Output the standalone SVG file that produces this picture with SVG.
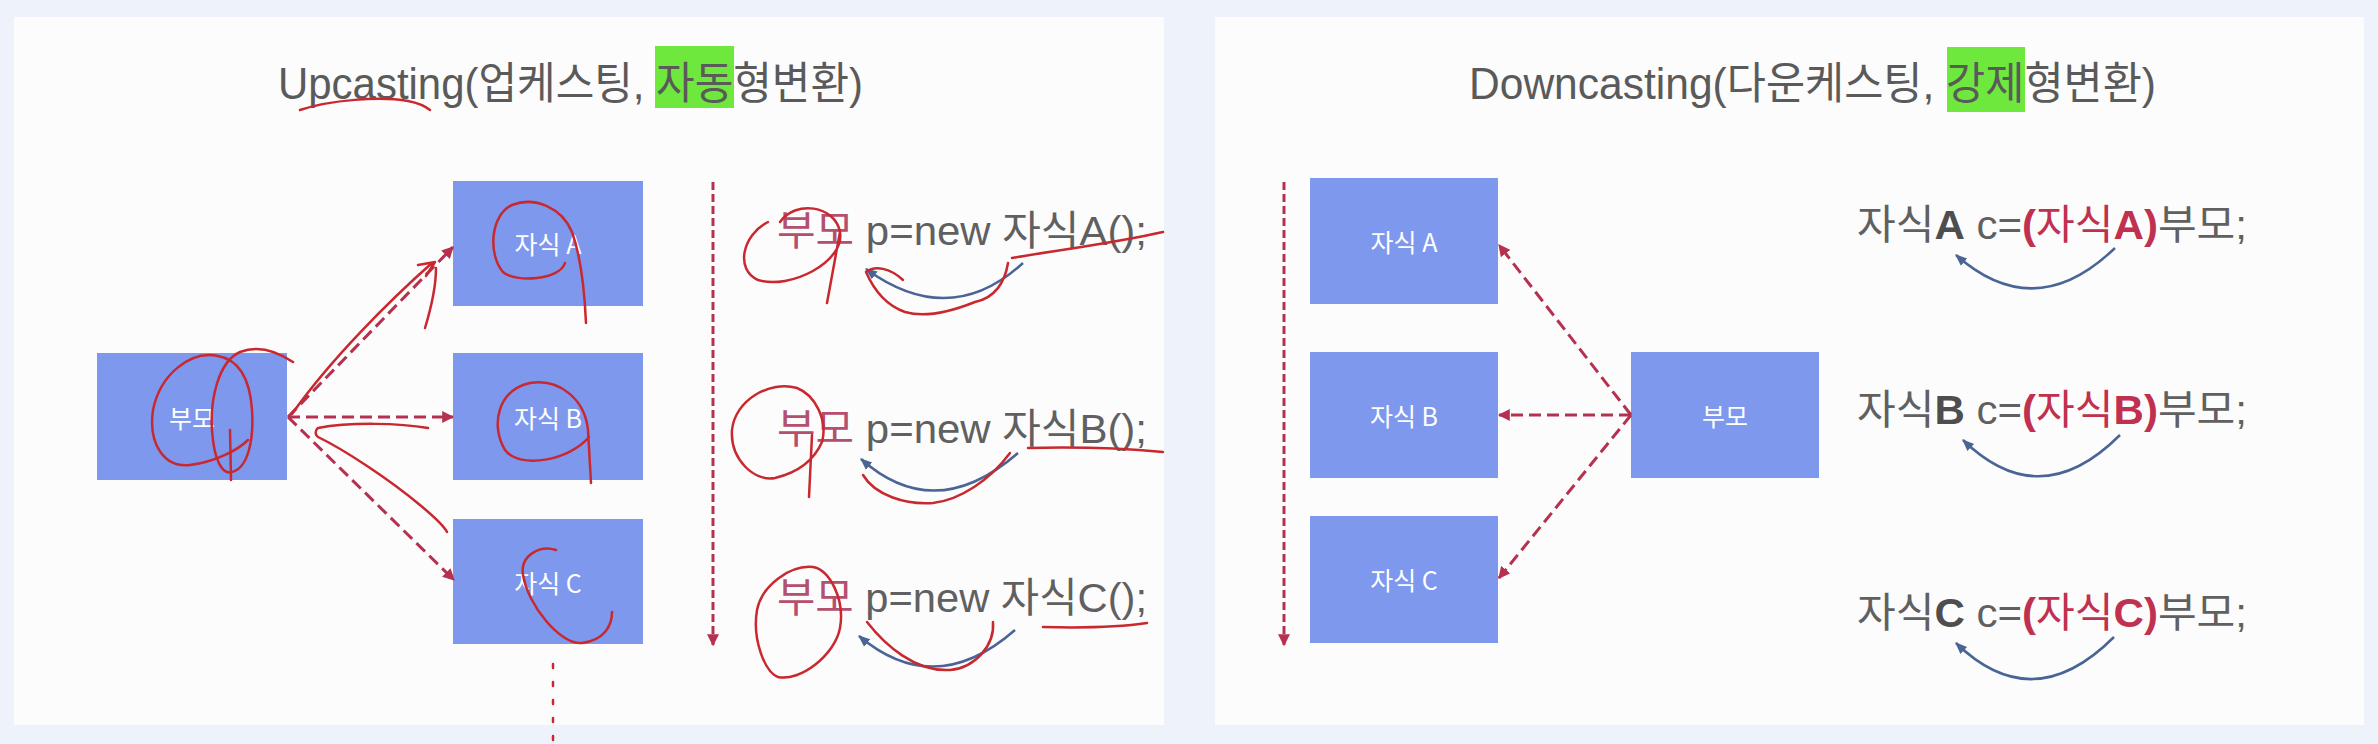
<svg xmlns="http://www.w3.org/2000/svg" width="2378" height="744" viewBox="0 0 2378 744">
<style>
.bg{fill:#eef3fb}
.panel{fill:#fcfcfd}
.node{fill:#7e98ee}
.lbl{font-family:"Noto Sans CJK KR","Liberation Sans",sans-serif;font-size:25px;fill:#ffffff;text-anchor:middle;dominant-baseline:central}
.title{font-family:"Liberation Sans","Noto Sans CJK KR",sans-serif;font-size:44px;fill:#5a5a5a}
.hl{fill:#6ee83c}
.code{font-family:"Liberation Sans","Noto Sans CJK KR",sans-serif;font-size:41px;fill:#606060}
.pm{fill:#b4506e}
.rd{fill:#c0304f}
.bd{font-weight:bold}
.dk{fill:#4e4e4e}
.dash{fill:none;stroke:#b5314f;stroke-width:3;stroke-dasharray:12 6}
.vdash{fill:none;stroke:#b5314f;stroke-width:3;stroke-dasharray:8 4}
.blue{fill:none;stroke:#4a6496;stroke-width:2.5}
.ink{fill:none;stroke:#c8282e;stroke-width:2.5;stroke-linecap:round;stroke-linejoin:round}
</style>
<defs>
<marker id="ah" viewBox="0 0 10 10" refX="9" refY="5" markerWidth="12" markerHeight="12" markerUnits="userSpaceOnUse" orient="auto">
<path d="M0,0 L10,5 L0,10 z" fill="#b5314f"/>
</marker>
<marker id="bh" viewBox="0 0 10 10" refX="9" refY="5" markerWidth="12" markerHeight="12" markerUnits="userSpaceOnUse" orient="auto">
<path d="M0,1 L10,5 L0,9 z" fill="#4a6496"/>
</marker>
</defs>
<rect class="bg" x="0" y="0" width="2378" height="744"/>
<rect class="panel" x="14" y="17" width="1150" height="708"/>
<rect class="panel" x="1215" y="17" width="1149" height="708"/>

<!-- titles -->
<rect class="hl" x="655" y="46" width="79" height="62"/>
<text class="title" x="278" y="99" textLength="585" lengthAdjust="spacingAndGlyphs">Upcasting(업케스팅, 자동형변환)</text>
<rect class="hl" x="1947" y="47" width="78" height="65"/>
<text class="title" x="1469" y="99" textLength="687" lengthAdjust="spacingAndGlyphs">Downcasting(다운케스팅, 강제형변환)</text>

<!-- left nodes -->
<g id="up-parent"><rect class="node" x="97" y="353" width="190" height="127"/><text class="lbl" x="192" y="417">부모</text></g>
<g id="up-childA"><rect class="node" x="453" y="181" width="190" height="125"/><text class="lbl" x="548" y="243">자식 A</text></g>
<g id="up-childB"><rect class="node" x="453" y="353" width="190" height="127"/><text class="lbl" x="548" y="417">자식 B</text></g>
<g id="up-childC"><rect class="node" x="453" y="519" width="190" height="125"/><text class="lbl" x="548" y="582">자식 C</text></g>

<!-- right nodes -->
<g id="down-childA"><rect class="node" x="1310" y="178" width="188" height="126"/><text class="lbl" x="1404" y="241">자식 A</text></g>
<g id="down-childB"><rect class="node" x="1310" y="352" width="188" height="126"/><text class="lbl" x="1404" y="415">자식 B</text></g>
<g id="down-childC"><rect class="node" x="1310" y="516" width="188" height="127"/><text class="lbl" x="1404" y="579">자식 C</text></g>
<g id="down-parent"><rect class="node" x="1631" y="352" width="188" height="126"/><text class="lbl" x="1725" y="415">부모</text></g>

<!-- connectors -->
<g id="connectors">
<line class="dash" x1="288" y1="417" x2="453" y2="247" marker-end="url(#ah)"/>
<line class="dash" x1="288" y1="417" x2="453" y2="417" marker-end="url(#ah)" stroke-width="3.5"/>
<line class="dash" x1="288" y1="417" x2="454" y2="580" marker-end="url(#ah)"/>
<line class="vdash" x1="713" y1="182" x2="713" y2="645" marker-end="url(#ah)"/>
<line class="dash" x1="1631" y1="415" x2="1499" y2="245" marker-end="url(#ah)"/>
<line class="dash" x1="1631" y1="415" x2="1499" y2="415" marker-end="url(#ah)" stroke-width="3.5"/>
<line class="dash" x1="1631" y1="415" x2="1499" y2="578" marker-end="url(#ah)"/>
<line class="vdash" x1="1284" y1="182" x2="1284" y2="645" marker-end="url(#ah)"/>
<path class="blue" d="M1023,263 Q950,330 866,269" marker-end="url(#bh)"/>
<path class="blue" d="M1018,453 Q935,525 861,459" marker-end="url(#bh)"/>
<path class="blue" d="M1015,630 Q935,700 859,636" marker-end="url(#bh)"/>
<path class="blue" d="M2115,248 Q2035,325 1956,255" marker-end="url(#bh)"/>
<path class="blue" d="M2120,435 Q2040,515 1963,440" marker-end="url(#bh)"/>
<path class="blue" d="M2114,637 Q2033,718 1956,643" marker-end="url(#bh)"/>
</g>

<!-- left code -->
<text class="code" x="777" y="245" textLength="370" lengthAdjust="spacingAndGlyphs"><tspan class="pm">부모</tspan> p=new 자식A();</text>
<text class="code" x="777" y="443" textLength="370" lengthAdjust="spacingAndGlyphs"><tspan class="pm">부모</tspan> p=new 자식B();</text>
<text class="code" x="777" y="612" textLength="370" lengthAdjust="spacingAndGlyphs"><tspan class="pm">부모</tspan> p=new 자식C();</text>

<!-- right code -->
<text class="code" x="1857" y="239" textLength="390" lengthAdjust="spacingAndGlyphs">자식<tspan class="bd dk">A</tspan> c=<tspan class="rd bd">(</tspan><tspan class="rd">자식</tspan><tspan class="rd bd">A)</tspan>부모;</text>
<text class="code" x="1857" y="424" textLength="390" lengthAdjust="spacingAndGlyphs">자식<tspan class="bd dk">B</tspan> c=<tspan class="rd bd">(</tspan><tspan class="rd">자식</tspan><tspan class="rd bd">B)</tspan>부모;</text>
<text class="code" x="1857" y="627" textLength="390" lengthAdjust="spacingAndGlyphs">자식<tspan class="bd dk">C</tspan> c=<tspan class="rd bd">(</tspan><tspan class="rd">자식</tspan><tspan class="rd bd">C)</tspan>부모;</text>

<!-- handwritten annotations -->
<g id="ink">
<path class="ink" d="M300,110 C330,100 380,96 408,101 C418,103 425,106 430,110"/>
<path class="ink" d="M293,362 C275,350 258,345 240,352 C218,362 210,400 212,430 C214,460 222,475 232,472 C248,468 254,440 252,410 C250,380 240,360 218,356 C190,350 160,375 153,410 C148,445 165,468 190,465 C215,462 238,450 248,440 M230,430 L231,480"/>
<path class="ink" d="M565,263 C560,280 515,283 503,272 C488,255 490,215 512,205 C535,196 562,208 572,232 C582,260 585,300 586,323"/>
<path class="ink" d="M589,437 C570,460 520,470 505,450 C490,425 498,390 530,383 C560,378 585,400 588,430 L591,483"/>
<path class="ink" d="M556,550 C540,545 520,555 523,575 C528,605 560,645 582,643 C605,640 612,625 612,612"/>
<path class="ink" d="M292,414 C330,360 390,300 432,263 M418,265 L435,262 L426,276 M425,328 C432,305 436,285 436,268"/>
<path class="ink" d="M428,428 C400,423 350,422 318,428 C314,431 316,436 318,437 C345,450 390,480 420,505 C438,520 445,528 447,532"/>
<path class="ink" d="M780,222 C795,200 835,205 840,232 C845,262 790,290 758,280 C735,270 742,235 768,222 M840,232 L827,303"/>
<path class="ink" d="M1012,258 C1060,250 1120,242 1163,232"/>
<path class="ink" d="M1008,263 C1005,282 995,298 975,302 C950,312 925,318 905,312 C885,305 873,288 866,272 M866,272 C875,265 890,268 903,280"/>
<path class="ink" d="M797,388 C770,380 735,400 732,430 C730,460 755,482 775,478 C800,472 815,458 822,442 C828,420 815,395 797,388 M812,435 L809,497"/>
<path class="ink" d="M1028,448 C1070,447 1120,448 1163,452"/>
<path class="ink" d="M1010,453 C990,480 960,500 933,503 C905,505 875,495 863,475"/>
<path class="ink" d="M813,567 C790,565 762,585 757,610 C752,640 765,672 778,677 C800,682 835,655 840,628 C845,600 830,570 813,567"/>
<path class="ink" d="M1043,627 C1080,628 1120,627 1147,623"/>
<path class="ink" d="M993,622 C995,645 975,668 950,670 C915,672 885,645 867,622"/>
<path class="ink" d="M553,664 L553,744" stroke-dasharray="4 14"/>
</g>
</svg>
